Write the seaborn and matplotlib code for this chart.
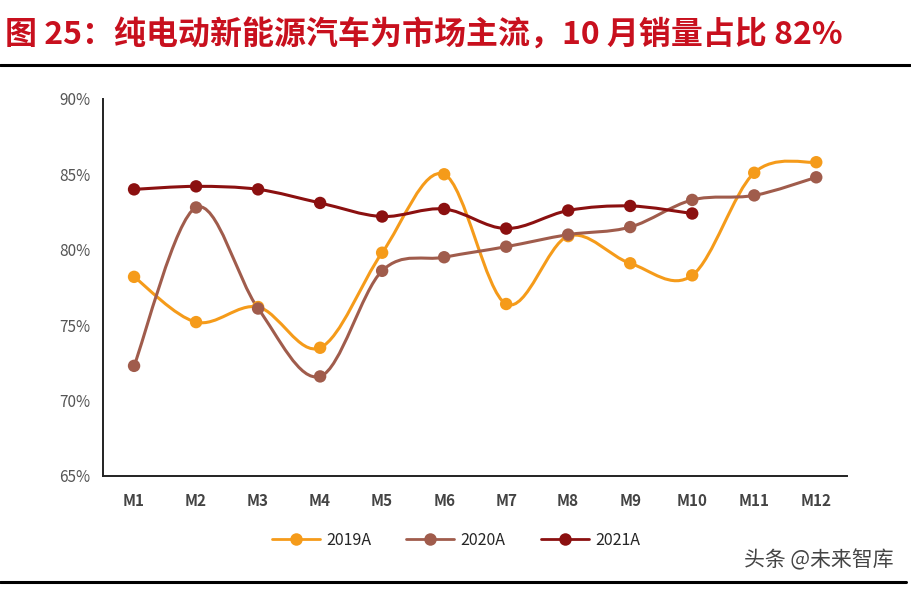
import matplotlib
matplotlib.use("Agg")
import matplotlib.pyplot as plt
from matplotlib.path import Path
from matplotlib.patches import PathPatch
from matplotlib.lines import Line2D
import seaborn as sns
import pandas as pd

months = ["M1", "M2", "M3", "M4", "M5", "M6", "M7", "M8", "M9", "M10", "M11", "M12"]
share_2019 = [78.2, 75.2, 76.2, 73.5, 79.8, 85.0, 76.4, 80.9, 79.1, 78.3, 85.1, 85.8]
share_2020 = [72.3, 82.8, 76.1, 71.6, 78.6, 79.5, 80.2, 81.0, 81.5, 83.3, 83.6, 84.8]
share_2021 = [84.0, 84.2, 84.0, 83.1, 82.2, 82.7, 81.4, 82.6, 82.9, 82.4]
series = {"2019A": share_2019, "2020A": share_2020, "2021A": share_2021}
colors = {"2019A": "#F59B1A", "2020A": "#A05C4C", "2021A": "#8B1010"}

sns.set_style("white")
plt.rcParams["font.family"] = ["Noto Sans CJK SC", "DejaVu Sans"]

rows = []
for name, vals in series.items():
    for i, v in enumerate(vals):
        rows.append({"month": i, "share": v, "year": name})
df = pd.DataFrame(rows)


def smooth_path(xs, ys):
    # catmull-rom -> cubic bezier, like excel's smoothed lines
    pts = list(zip(xs, ys))
    verts = [pts[0]]
    codes = [Path.MOVETO]
    n = len(pts)
    for i in range(n - 1):
        p0 = pts[i - 1] if i > 0 else pts[i]
        p1 = pts[i]
        p2 = pts[i + 1]
        p3 = pts[i + 2] if i + 2 < n else pts[i + 1]
        c1 = (p1[0] + (p2[0] - p0[0]) / 6, p1[1] + (p2[1] - p0[1]) / 6)
        c2 = (p2[0] - (p3[0] - p1[0]) / 6, p2[1] - (p3[1] - p1[1]) / 6)
        verts += [c1, c2, p2]
        codes += [Path.CURVE4] * 3
    return Path(verts, codes)


fig = plt.figure(figsize=(9.12, 5.92), dpi=100)
ax = fig.add_axes([0.113, 0.196, 0.816, 0.637])

for name, vals in series.items():
    path = smooth_path(range(len(vals)), vals)
    ax.add_patch(PathPatch(path, fill=False, edgecolor=colors[name], lw=2.2, zorder=2))

sns.scatterplot(data=df, x="month", y="share", hue="year", palette=colors,
                s=80, edgecolor="none", legend=False, ax=ax, zorder=3)

ax.set_xlim(-0.5, 11.5)
ax.set_ylim(65, 90)
ax.set_yticks([65, 70, 75, 80, 85, 90])
ax.set_yticklabels([f"{v}%" for v in [65, 70, 75, 80, 85, 90]])
ax.set_xticks(range(12))
ax.set_xticklabels(months, fontweight="bold")
ax.set_xticks([i - 0.5 for i in range(13)], minor=True)
ax.tick_params(axis="x", which="major", length=0, pad=12, labelsize=11, labelcolor="#444444")
ax.tick_params(axis="x", which="minor", length=5, width=1.2, color="#222222", direction="out")
ax.tick_params(axis="y", length=5, width=1.2, color="#222222", direction="out",
               labelsize=11, labelcolor="#555555", pad=4)
ax.set_xlabel("")
ax.set_ylabel("")
sns.despine(ax=ax)
for s in ["left", "bottom"]:
    ax.spines[s].set_color("#222222")
    ax.spines[s].set_linewidth(1.4)

handles = [Line2D([], [], color=colors[n], lw=2.0, marker="o", markersize=9,
                  markeredgewidth=0) for n in series]
fig.legend(handles, list(series.keys()), loc="center", bbox_to_anchor=(0.5, 0.087),
           ncol=3, frameon=False, fontsize=11.5, handlelength=3, columnspacing=2.2,
           handletextpad=0.4)

fig.text(0.006, 0.94, "图 25：纯电动新能源汽车为市场主流，10 月销量占比 82%",
         color="#C8101E", fontsize=23, fontweight="bold", va="center", ha="left")
fig.add_artist(Line2D([0.0, 0.998], [0.891, 0.891], color="black", lw=2.2,
                      transform=fig.transFigure))
fig.add_artist(Line2D([0.0, 0.993], [0.017, 0.017], color="black", lw=2.2,
                      transform=fig.transFigure))
fig.text(0.98, 0.054, "头条 @未来智库", color="#444444", fontsize=15,
         ha="right", va="center")

fig.savefig("out.png", dpi=100, facecolor="white")
